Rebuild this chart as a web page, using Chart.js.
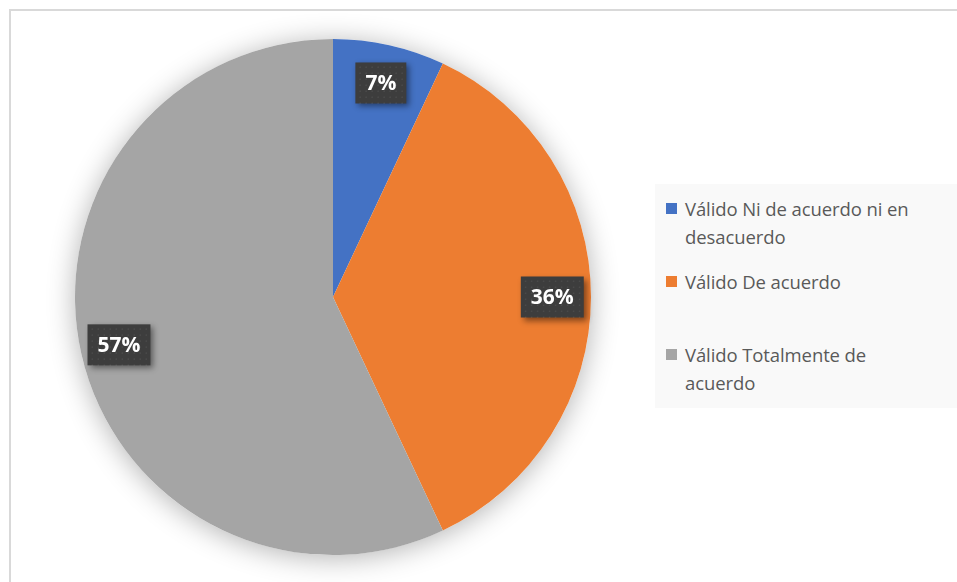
<!DOCTYPE html>
<html>
<head>
<meta charset="utf-8">
<script src="https://cdn.jsdelivr.net/npm/chart.js@4.4.1/dist/chart.umd.min.js"></script>
<style>
  html, body { margin: 0; padding: 0; background: #fff; }
  #wrap { position: relative; width: 957px; height: 582px; overflow: hidden; }
  #frame { position: absolute; left: 9px; top: 9px; width: 1000px; height: 700px; border: 2px solid #d9d9d9; }
  #pie { position: absolute; left: 0; top: 0; }
  #legend { position: absolute; left: 655px; top: 184px; width: 310px; height: 224px; background: #f9f9f9;
            font-family: "Open Sans", sans-serif; font-size: 18.5px; color: #595959; line-height: 28px; letter-spacing: -0.1px; }
  #legend .item { position: absolute; left: 11px; width: 295px; }
  #legend .box { position: absolute; left: 0; top: 8px; width: 11px; height: 11px; }
  #legend .txt { margin-left: 19px; }
</style>
</head>
<body>
<div id="wrap">
  <div id="frame"></div>
  <canvas id="pie" width="957" height="582"></canvas>
  <div id="legend"></div>
</div>
<script>
var categories = ["Válido Ni de acuerdo ni en desacuerdo", "Válido De acuerdo", "Válido Totalmente de acuerdo"];
var legendLines = [["Válido Ni de acuerdo ni en", "desacuerdo"], ["Válido De acuerdo"], ["Válido Totalmente de", "acuerdo"]];
var percents = [7, 36, 57];
var colors = ["#4472c4", "#ed7d31", "#a5a5a5"];

// soft glow under the whole pie
var pieShadow = {
    id: "pieShadow",
    beforeDatasetsDraw: function(chart) {
        var arc = chart.getDatasetMeta(0).data[0];
        var ctx = chart.ctx;
        ctx.save();
        ctx.shadowColor = "rgba(0,0,0,0.3)";
        ctx.shadowBlur = 28;
        ctx.shadowOffsetX = 0;
        ctx.shadowOffsetY = 3;
        ctx.fillStyle = "#ffffff";
        ctx.beginPath();
        ctx.arc(arc.x, arc.y, arc.outerRadius, 0, Math.PI * 2);
        ctx.fill();
        ctx.restore();
    }
};

// dark boxes with the percentage inside each slice
var sliceLabels = {
    id: "sliceLabels",
    afterDatasetsDraw: function(chart) {
        var ctx = chart.ctx;
        var meta = chart.getDatasetMeta(0);
        ctx.save();
        ctx.font = "bold 21px 'Open Sans', sans-serif";
        ctx.textAlign = "center";
        ctx.textBaseline = "middle";
        meta.data.forEach(function(arc, i) {
            var mid = (arc.startAngle + arc.endAngle) / 2;
            var r = arc.outerRadius * 0.85;
            var x = arc.x + Math.cos(mid) * r;
            var y = arc.y + Math.sin(mid) * r;
            var text = chart.data.datasets[0].data[i] + "%";
            var w = ctx.measureText(text).width + 20;
            var h = 41;
            ctx.shadowColor = "rgba(0,0,0,0.45)";
            ctx.shadowBlur = 6;
            ctx.shadowOffsetX = 3;
            ctx.shadowOffsetY = 3;
            ctx.fillStyle = "#3d3d3d";
            ctx.fillRect(x - w / 2, y - h / 2, w, h);
            ctx.shadowColor = "transparent";
            // faint dot texture
            ctx.fillStyle = "rgba(255,255,255,0.07)";
            for (var dx = 4; dx < w; dx += 6) {
                for (var dy = 4; dy < h; dy += 6) {
                    ctx.fillRect(x - w / 2 + dx, y - h / 2 + dy, 1.5, 1.5);
                }
            }
            ctx.fillStyle = "#ffffff";
            ctx.fillText(text, x, y + 1);
        });
        ctx.restore();
    }
};

var chart = new Chart(document.getElementById("pie"), {
    type: "pie",
    data: {
        labels: categories,
        datasets: [{
            data: percents,
            backgroundColor: colors,
            borderWidth: 0
        }]
    },
    options: {
        responsive: false,
        animation: false,
        layout: { padding: { left: 75, right: 366, top: 39, bottom: 27 } },
        plugins: {
            legend: { display: false },
            tooltip: { enabled: false }
        }
    },
    plugins: [pieShadow, sliceLabels]
});

// legend built from the chart's own legend items
var items = chart.options.plugins.legend.labels.generateLabels(chart);
var legend = document.getElementById("legend");
items.forEach(function(it, i) {
    var div = document.createElement("div");
    div.className = "item";
    div.style.top = (11 + i * 73) + "px";
    var box = document.createElement("div");
    box.className = "box";
    box.style.background = it.fillStyle;
    var txt = document.createElement("div");
    txt.className = "txt";
    txt.innerHTML = legendLines[i].join("<br>");
    div.appendChild(box);
    div.appendChild(txt);
    legend.appendChild(div);
});
</script>
</body>
</html>
